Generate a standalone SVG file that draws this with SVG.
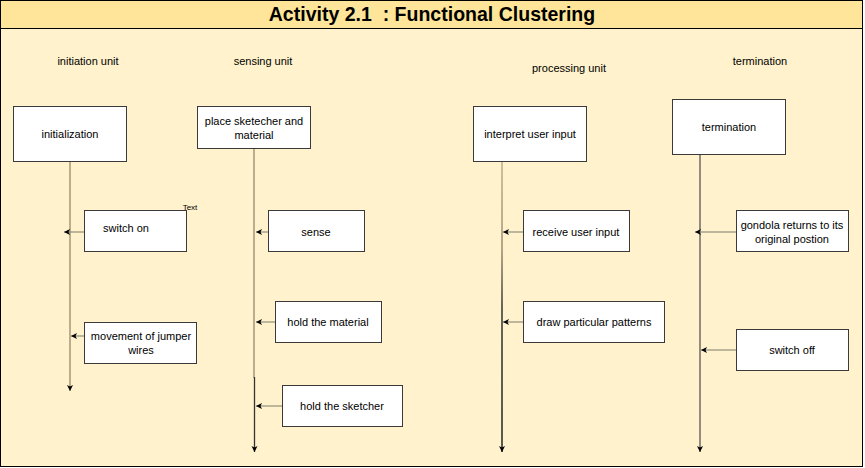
<svg xmlns="http://www.w3.org/2000/svg" width="865" height="468" viewBox="0 0 865 468">
<style>
.lbl{font-family:"Liberation Sans",Arial,sans-serif;font-size:11px;fill:#000;text-anchor:middle}
.box{fill:#fff;stroke:#3a3a3a;stroke-width:1}
.tan{stroke:#bcae8c;stroke-width:2;fill:none}
.dark{stroke:#333;stroke-width:1.3;fill:none}
.msg{stroke:#7a7a6a;stroke-width:1;fill:none;marker-end:url(#ah)}
</style>
<defs>
<marker id="ah" markerWidth="8" markerHeight="8" refX="6" refY="4" orient="auto" markerUnits="userSpaceOnUse">
<path d="M0,1 L6,4 L0,7 L1.5,4 Z" fill="#000"/>
</marker>
<marker id="down" markerWidth="8" markerHeight="8" refX="4" refY="6" orient="0" markerUnits="userSpaceOnUse">
<path d="M1,0 L4,6 L7,0 L4,1.5 Z" fill="#000"/>
</marker>
<linearGradient id="pg" x1="0" y1="162" x2="0" y2="453" gradientUnits="userSpaceOnUse">
<stop offset="0" stop-color="#bcae8c"/>
<stop offset="0.3" stop-color="#9a8d70"/>
<stop offset="0.5" stop-color="#333"/>
<stop offset="1" stop-color="#222"/>
</linearGradient>
</defs>
<rect x="0.5" y="0.5" width="862" height="466" fill="#fff2cc" stroke="#000" stroke-width="1"/>
<rect x="0.5" y="0.5" width="862" height="28" fill="#ffe599" stroke="#000" stroke-width="1"/>
<text x="432" y="21.5" xml:space="preserve" font-family="'Liberation Sans Narrow','Liberation Sans',Arial,sans-serif" font-size="21" font-weight="bold" text-anchor="middle" transform="translate(432 0) scale(0.93 1) translate(-432 0)">Activity 2.1  : Functional Clustering</text>

<g id="headers">
<text class="lbl" x="88" y="65">initiation unit</text>
<text class="lbl" x="263" y="65">sensing unit</text>
<text class="lbl" x="569" y="72">processing unit</text>
<text class="lbl" x="760" y="65">termination</text>
</g>

<g id="connectors">
<line class="tan" x1="70" y1="162" x2="70" y2="391" marker-end="url(#down)"/>
<line class="tan" x1="254" y1="148" x2="254" y2="378"/>
<line class="dark" x1="254.5" y1="377" x2="254.5" y2="452" marker-end="url(#down)"/>
<line x1="502" y1="162" x2="502" y2="452" stroke="url(#pg)" stroke-width="1.5" marker-end="url(#down)"/>
<line x1="700" y1="155" x2="700" y2="452" stroke="#555" stroke-width="1.3" marker-end="url(#down)"/>
<line class="msg" x1="84" y1="232" x2="64" y2="232"/>
<line class="msg" x1="84" y1="336" x2="71" y2="336"/>
<line class="msg" x1="268" y1="232" x2="256" y2="232"/>
<line class="msg" x1="275" y1="322" x2="256" y2="322"/>
<line class="msg" x1="282" y1="406" x2="256" y2="406"/>
<line class="msg" x1="523" y1="232" x2="503" y2="232"/>
<line class="msg" x1="523" y1="322" x2="503" y2="322"/>
<line class="msg" x1="736" y1="232" x2="695" y2="232"/>
<line class="msg" x1="736" y1="350" x2="701" y2="350"/>
</g>

<g id="initialization"><rect class="box" x="13.5" y="106.5" width="113" height="55"/><text class="lbl" x="70" y="138">initialization</text></g>
<g id="place"><rect class="box" x="197.5" y="106.5" width="113" height="42"/><text class="lbl" x="254" y="125">place sketecher and</text><text class="lbl" x="254" y="139">material</text></g>
<g id="interpret"><rect class="box" x="473.5" y="106.5" width="113" height="55"/><text class="lbl" x="530" y="138">interpret user input</text></g>
<g id="termination"><rect class="box" x="672.5" y="99.5" width="113" height="55"/><text class="lbl" x="729" y="131">termination</text></g>

<g id="switchon"><rect class="box" x="84.5" y="210.5" width="102" height="41"/><text class="lbl" x="126" y="232">switch on</text></g>
<g id="textlabel"><text x="190" y="210" font-family="'Liberation Sans',Arial,sans-serif" font-size="8" text-anchor="middle">Text</text></g>
<g id="jumper"><rect class="box" x="84.5" y="322.5" width="112" height="41"/><text class="lbl" x="141" y="340">movement of jumper</text><text class="lbl" x="141" y="354">wires</text></g>
<g id="sense"><rect class="box" x="268.5" y="210.5" width="96" height="41"/><text class="lbl" x="316" y="236">sense</text></g>
<g id="holdmaterial"><rect class="box" x="275.5" y="301.5" width="106" height="41"/><text class="lbl" x="328" y="326">hold the material</text></g>
<g id="holdsketcher"><rect class="box" x="282.5" y="385.5" width="120" height="41"/><text class="lbl" x="342" y="410">hold the sketcher</text></g>
<g id="receive"><rect class="box" x="523.5" y="210.5" width="106" height="41"/><text class="lbl" x="576" y="236">receive user input</text></g>
<g id="draw"><rect class="box" x="523.5" y="301.5" width="141" height="41"/><text class="lbl" x="594" y="326">draw particular patterns</text></g>
<g id="gondola"><rect class="box" x="736.5" y="210.5" width="112" height="41"/><text class="lbl" x="792" y="229">gondola returns to its</text><text class="lbl" x="792" y="243">original postion</text></g>
<g id="switchoff"><rect class="box" x="736.5" y="329.5" width="112" height="41"/><text class="lbl" x="792" y="354">switch off</text></g>
</svg>
